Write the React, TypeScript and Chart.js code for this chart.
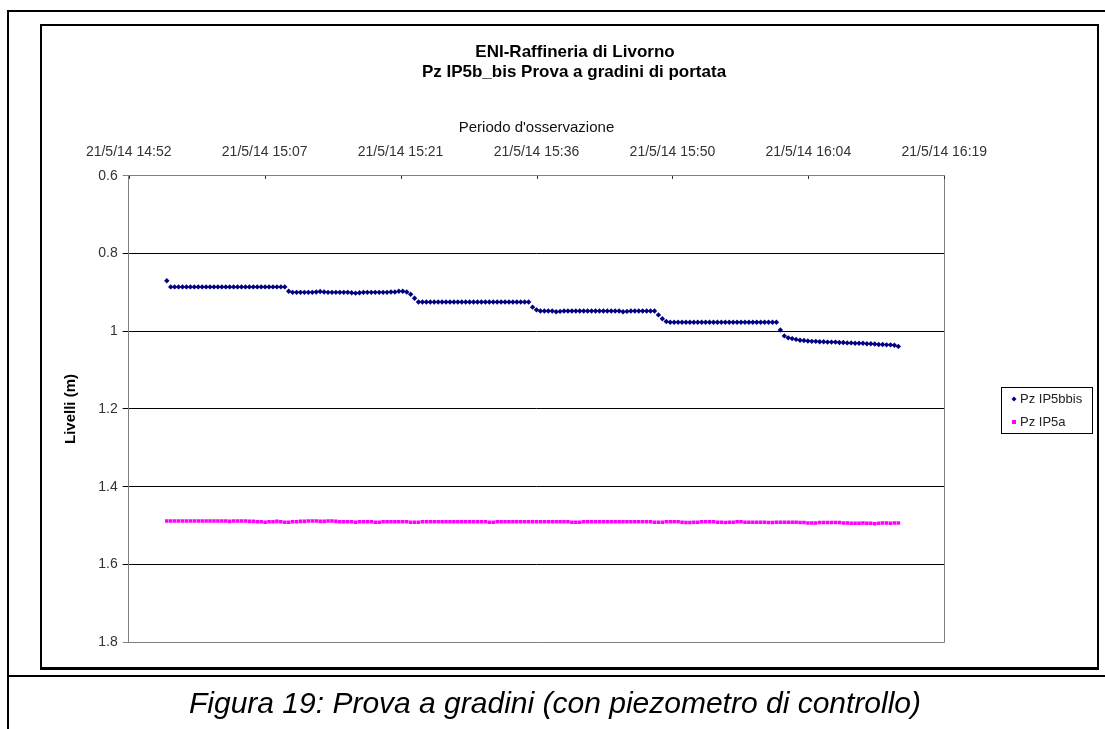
import { useEffect, useRef } from "react";
import { Chart, registerables } from "chart.js";

Chart.register(...registerables);

// ---------- data ----------
const chartTitle = ["ENI-Raffineria di Livorno", "Pz IP5b_bis Prova a gradini di portata"];
const xAxisTitle = "Periodo d'osservazione";
const yAxisTitle = "Livelli (m)";
const caption = "Figura 19: Prova a gradini (con piezometro di controllo)";
const seriesNames = ["Pz IP5bbis", "Pz IP5a"];

// x axis ticks (Excel day fractions) and their labels
const xTickDays = [0.62, 0.63, 0.64, 0.65, 0.66, 0.67, 0.68];
const xTickLabels = [
  "21/5/14 14:52",
  "21/5/14 15:07",
  "21/5/14 15:21",
  "21/5/14 15:36",
  "21/5/14 15:50",
  "21/5/14 16:04",
  "21/5/14 16:19",
];
const yTickValues = [0.6, 0.8, 1.0, 1.2, 1.4, 1.6, 1.8];
const yTickLabels = ["0.6", "0.8", "1", "1.2", "1.4", "1.6", "1.8"];

// logger readings
const firstReading = "14:56:50";
const readingIntervalSec = 25;

const ip5bbis = [
  0.870,
  0.886, 0.886, 0.886, 0.886, 0.886, 0.886, 0.886, 0.886, 0.886, 0.886,
  0.886, 0.886, 0.886, 0.886, 0.886, 0.886, 0.886, 0.886, 0.886, 0.886,
  0.886, 0.886, 0.886, 0.886, 0.886, 0.886, 0.886, 0.886, 0.886, 0.886,
  0.897,
  0.900, 0.900, 0.900, 0.900, 0.900, 0.900, 0.899, 0.898, 0.899, 0.900,
  0.900, 0.900, 0.900, 0.900, 0.900, 0.901, 0.902, 0.901, 0.900, 0.900,
  0.900, 0.900, 0.900, 0.900, 0.900, 0.899, 0.899, 0.897, 0.897, 0.899,
  0.905, 0.915,
  0.925, 0.925, 0.925, 0.925, 0.925, 0.925, 0.925, 0.925, 0.925, 0.925,
  0.925, 0.925, 0.925, 0.925, 0.925, 0.925, 0.925, 0.925, 0.925, 0.925,
  0.925, 0.925, 0.925, 0.925, 0.925, 0.925, 0.925, 0.925, 0.925,
  0.938, 0.945,
  0.948, 0.948, 0.948, 0.948, 0.950, 0.949, 0.948, 0.948, 0.948, 0.948,
  0.948, 0.948, 0.948, 0.948, 0.948, 0.948, 0.948, 0.948, 0.948, 0.948,
  0.948, 0.950, 0.949, 0.948, 0.948, 0.948, 0.948, 0.948, 0.948, 0.948,
  0.958, 0.968, 0.975,
  0.977, 0.977, 0.977, 0.977, 0.977, 0.977, 0.977, 0.977, 0.977, 0.977,
  0.977, 0.977, 0.977, 0.977, 0.977, 0.977, 0.977, 0.977, 0.977, 0.977,
  0.977, 0.977, 0.977, 0.977, 0.977, 0.977, 0.977, 0.977,
  0.997, 1.012,
  1.017, 1.019, 1.021, 1.023, 1.024, 1.025, 1.026, 1.026, 1.027, 1.027,
  1.028, 1.028, 1.028, 1.029, 1.029, 1.030, 1.030, 1.031, 1.031, 1.031,
  1.032, 1.032, 1.033, 1.034, 1.034, 1.035, 1.035, 1.036, 1.039,
];

const ip5a = [
  1.488, 1.488, 1.488, 1.488, 1.488, 1.488, 1.488, 1.488, 1.488, 1.488,
  1.488, 1.488, 1.488, 1.488, 1.488, 1.488, 1.489, 1.488, 1.488, 1.488,
  1.488, 1.489, 1.489, 1.490, 1.490, 1.491, 1.490, 1.490, 1.489, 1.490,
  1.491, 1.491, 1.490, 1.490, 1.489, 1.489, 1.488, 1.488, 1.488, 1.489,
  1.489, 1.488, 1.488, 1.489, 1.490, 1.490, 1.490, 1.490, 1.491, 1.490,
  1.490, 1.490, 1.490, 1.491, 1.491, 1.490, 1.490, 1.490, 1.490, 1.490,
  1.490, 1.490, 1.491, 1.491, 1.491, 1.490, 1.490, 1.490, 1.490, 1.490,
  1.490, 1.490, 1.490, 1.490, 1.490, 1.490, 1.490, 1.490, 1.490, 1.490,
  1.490, 1.490, 1.491, 1.491, 1.490, 1.490, 1.490, 1.490, 1.490, 1.490,
  1.490, 1.490, 1.490, 1.490, 1.490, 1.490, 1.490, 1.490, 1.490, 1.490,
  1.490, 1.490, 1.490, 1.491, 1.491, 1.491, 1.490, 1.490, 1.490, 1.490,
  1.490, 1.490, 1.490, 1.490, 1.490, 1.490, 1.490, 1.490, 1.490, 1.490,
  1.490, 1.490, 1.490, 1.490, 1.491, 1.491, 1.491, 1.490, 1.490, 1.490,
  1.490, 1.491, 1.492, 1.492, 1.491, 1.491, 1.490, 1.490, 1.490, 1.490,
  1.491, 1.491, 1.492, 1.491, 1.491, 1.490, 1.490, 1.491, 1.491, 1.491,
  1.491, 1.491, 1.491, 1.492, 1.492, 1.491, 1.491, 1.491, 1.491, 1.491,
  1.491, 1.492, 1.492, 1.493, 1.493, 1.493, 1.492, 1.492, 1.492, 1.492,
  1.492, 1.492, 1.493, 1.493, 1.494, 1.494, 1.494, 1.493, 1.494, 1.494,
  1.495, 1.494, 1.493, 1.493, 1.494, 1.493, 1.493,
];

// ---------- helpers ----------
const toSeconds = (hms: string) => {
  const [h, m, s] = hms.split(":").map(Number);
  return h * 3600 + m * 60 + s;
};
const t0 = toSeconds(firstReading);
const toPoints = (vals: number[]) => vals.map((v, i) => ({ x: t0 + i * readingIntervalSec, y: v }));
const xTickSeconds = xTickDays.map((d) => Math.round(d * 86400));

const FONT = "'Liberation Sans', Arial, Helvetica, sans-serif";
const BLUE = "#000080";
const PINK = "#FF00FF";

const decorPlugin = {
  id: "decor",
  afterDraw(chart: any) {
    const { ctx, chartArea: a, scales } = chart;
    ctx.save();
    // right + bottom border of plot area
    ctx.strokeStyle = "#808080";
    ctx.lineWidth = 1;
    ctx.beginPath();
    const r = Math.round(a.right) + 0.5;
    const b = Math.round(a.bottom) + 0.5;
    ctx.moveTo(r, Math.round(a.top));
    ctx.lineTo(r, b);
    ctx.lineTo(Math.round(a.left), b);
    ctx.stroke();
    // small inward x tick marks
    ctx.strokeStyle = "#333";
    ctx.beginPath();
    scales.x.ticks.forEach((t: any) => {
      const px = Math.round(scales.x.getPixelForValue(t.value)) + 0.5;
      ctx.moveTo(px, Math.round(a.top));
      ctx.lineTo(px, Math.round(a.top) + 3);
    });
    ctx.stroke();

    // chart title
    ctx.fillStyle = "#000";
    ctx.textAlign = "center";
    ctx.textBaseline = "middle";
    ctx.font = `bold 17px ${FONT}`;
    ctx.fillText(chartTitle[0], 575, 52);
    ctx.fillText(chartTitle[1], 574, 72);

    // legend
    const lx = 1001, ly = 387, lw = 91, lh = 46;
    ctx.fillStyle = "#fff";
    ctx.fillRect(lx, ly, lw, lh);
    ctx.strokeStyle = "#000";
    ctx.lineWidth = 1;
    ctx.strokeRect(lx + 0.5, ly + 0.5, lw, lh);
    const ds = chart.data.datasets;
    const rows = [399, 422];
    ctx.font = `13px ${FONT}`;
    ctx.textAlign = "left";
    ds.forEach((d: any, i: number) => {
      const cy = rows[i];
      ctx.fillStyle = d.backgroundColor;
      if (d.pointStyle === "rectRot") {
        ctx.beginPath();
        ctx.moveTo(1014, cy - 2.5);
        ctx.lineTo(1016.5, cy);
        ctx.lineTo(1014, cy + 2.5);
        ctx.lineTo(1011.5, cy);
        ctx.closePath();
        ctx.fill();
      } else {
        ctx.fillRect(1012, cy - 2, 4, 4);
      }
      ctx.fillStyle = "#222";
      ctx.fillText(d.label, 1020, cy);
    });
    ctx.restore();
  },
};

export default function App() {
  const ref = useRef<HTMLCanvasElement | null>(null);

  useEffect(() => {
    if (!ref.current) return;
    const chart = new Chart(ref.current, {
      type: "scatter",
      data: {
        datasets: [
          {
            label: seriesNames[0],
            data: toPoints(ip5bbis),
            pointStyle: "rectRot",
            pointRadius: 2.7,
            borderWidth: 0,
            backgroundColor: BLUE,
            borderColor: BLUE,
          },
          {
            label: seriesNames[1],
            data: toPoints(ip5a),
            pointStyle: "rect",
            pointRadius: 2.5,
            borderWidth: 0,
            backgroundColor: PINK,
            borderColor: PINK,
          },
        ],
      },
      options: {
        responsive: false,
        animation: false,
        devicePixelRatio: 1,
        layout: { padding: { left: 60, top: 110, right: 160.7, bottom: 86.7 } },
        plugins: {
          legend: { display: false },
          title: { display: false },
          tooltip: { enabled: false },
        },
        scales: {
          x: {
            type: "linear",
            position: "top",
            min: xTickSeconds[0],
            max: xTickSeconds[xTickSeconds.length - 1],
            afterBuildTicks: (scale: any) => {
              scale.ticks = xTickSeconds.map((v) => ({ value: v }));
            },
            afterFit: (scale: any) => {
              scale.height = 65.7;
            },
            grid: { display: false },
            border: { display: true, color: "#808080", width: 1 },
            ticks: {
              autoSkip: false,
              maxRotation: 0,
              minRotation: 0,
              padding: 7.3,
              color: "#333",
              font: { family: FONT, size: 14 },
              callback: (_v: any, i: number) => xTickLabels[i],
            },
            title: {
              display: true,
              text: xAxisTitle,
              color: "#111",
              padding: { top: 9, bottom: 0 },
              font: { family: FONT, size: 15 },
            },
          },
          y: {
            type: "linear",
            position: "left",
            reverse: true,
            min: yTickValues[0],
            max: yTickValues[yTickValues.length - 1],
            afterBuildTicks: (scale: any) => {
              scale.ticks = yTickValues.map((v) => ({ value: v }));
            },
            afterFit: (scale: any) => {
              scale.width = 68.7;
            },
            grid: {
              color: (c: any) =>
                c.tick && (c.tick.value === yTickValues[0] || c.tick.value === yTickValues[yTickValues.length - 1])
                  ? "#808080"
                  : "#000",
              lineWidth: 1,
              tickLength: 6,
            },
            border: { display: true, color: "#808080", width: 1 },
            ticks: {
              padding: 5,
              color: "#333",
              font: { family: FONT, size: 14 },
              callback: (_v: any, i: number) => yTickLabels[i],
            },
            title: {
              display: true,
              text: yAxisTitle,
              color: "#000",
              padding: { top: 2, bottom: 0 },
              font: { family: FONT, size: 15, weight: "bold" },
            },
          },
        },
      },
      plugins: [decorPlugin],
    } as any);
    return () => chart.destroy();
  }, []);

  const line = (left: number, top: number, width: number, height: number) => (
    <div style={{ position: "absolute", left, top, width, height, background: "#000" }} />
  );

  return (
    <div style={{ position: "absolute", left: 0, top: 0, width: 1105, height: 729, overflow: "hidden", background: "#fff" }}>
      {line(7, 10, 1098, 2)}
      {line(7, 10, 2, 719)}
      {line(7, 675, 1098, 2)}
      <div
        style={{
          position: "absolute",
          left: 40,
          top: 24,
          width: 1059,
          height: 646,
          boxSizing: "border-box",
          borderStyle: "solid",
          borderColor: "#000",
          borderWidth: "2px 2px 3px 2px",
        }}
      />
      <canvas
        ref={ref}
        width={1105}
        height={729}
        style={{ position: "absolute", left: 0, top: 0, width: 1105, height: 729 }}
      />
      <div
        style={{
          position: "absolute",
          left: 0,
          top: 685,
          width: 1110,
          textAlign: "center",
          fontFamily: FONT,
          fontStyle: "italic",
          fontSize: 30,
          lineHeight: "35px",
          color: "#000",
          whiteSpace: "nowrap",
        }}
      >
        {caption}
      </div>
    </div>
  );
}
